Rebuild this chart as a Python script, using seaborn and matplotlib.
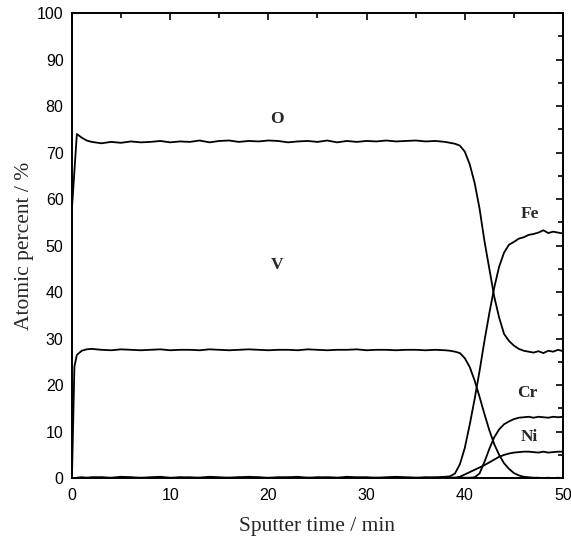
import pandas as pd
import matplotlib
matplotlib.use('Agg')
import matplotlib.pyplot as plt
from matplotlib.ticker import MultipleLocator
import seaborn as sns

# sputter depth profile data
time = [0, 0.25, 0.5, 1, 1.5, 2,
        3, 4, 5, 6, 7, 8, 9, 10, 11, 12, 13, 14,
        15, 16, 17, 18, 19, 20, 21, 22, 23, 24, 25, 26,
        27, 28, 29, 30, 31, 32, 33, 34, 35, 36, 37, 38,
        38.5, 39, 39.5, 40, 40.5, 41, 41.5, 42, 42.5, 43, 43.5, 44,
        44.5, 45, 45.5, 46, 46.5, 47, 47.5, 48, 48.5, 49, 49.5, 50]

O = [58.0, 66.0, 74.0, 73.2, 72.6, 72.3,
     72.0, 72.3, 72.1, 72.4, 72.2, 72.3, 72.5, 72.2, 72.4, 72.3, 72.6, 72.2,
     72.5, 72.6, 72.3, 72.5, 72.4, 72.6, 72.5, 72.2, 72.4, 72.5, 72.3, 72.6,
     72.2, 72.5, 72.3, 72.5, 72.4, 72.6, 72.4, 72.5, 72.6, 72.4, 72.5, 72.3,
     72.1, 71.9, 71.5, 70.2, 67.5, 63.5, 58.0, 51.0, 45.0, 39.0, 34.5, 31.0,
     29.5, 28.5, 27.8, 27.4, 27.2, 27.0, 27.3, 26.9, 27.4, 27.2, 27.6, 27.3]

V = [0.0, 24.0, 26.5, 27.4, 27.7, 27.8,
     27.6, 27.5, 27.7, 27.6, 27.5, 27.6, 27.7, 27.5, 27.6, 27.6, 27.5, 27.7,
     27.6, 27.5, 27.6, 27.7, 27.6, 27.5, 27.6, 27.6, 27.5, 27.7, 27.6, 27.5,
     27.6, 27.6, 27.7, 27.5, 27.6, 27.6, 27.5, 27.6, 27.6, 27.5, 27.6, 27.5,
     27.4, 27.2, 26.9, 25.8, 23.9, 21.0, 17.5, 13.8, 10.3, 7.3, 5.0, 3.2,
     2.0, 1.1, 0.6, 0.3, 0.2, 0.1, 0.1, 0.0, 0.1, 0.0, 0.1, 0.0]

Fe = [0.0, 0.0, 0.1, 0.2, 0.1, 0.2,
      0.2, 0.1, 0.3, 0.2, 0.1, 0.2, 0.3, 0.1, 0.2, 0.2, 0.1, 0.3,
      0.2, 0.1, 0.2, 0.3, 0.2, 0.1, 0.2, 0.2, 0.3, 0.1, 0.2, 0.2,
      0.1, 0.3, 0.2, 0.2, 0.1, 0.2, 0.3, 0.2, 0.1, 0.2, 0.2, 0.3,
      0.4, 1.0, 3.0, 6.5, 11.5, 17.0, 23.0, 29.5, 35.5, 41.0, 45.5, 48.5,
      50.2, 50.8, 51.5, 51.8, 52.3, 52.5, 52.8, 53.3, 52.7, 53.0, 52.8, 52.6]

Cr = [0.0, 0.0, 0.0, 0.1, 0.0, 0.1,
      0.1, 0.0, 0.1, 0.1, 0.0, 0.1, 0.1, 0.0, 0.1, 0.0, 0.1, 0.1,
      0.0, 0.1, 0.1, 0.0, 0.1, 0.0, 0.1, 0.1, 0.0, 0.1, 0.0, 0.1,
      0.1, 0.0, 0.1, 0.1, 0.0, 0.1, 0.0, 0.1, 0.1, 0.0, 0.1, 0.1,
      0.1, 0.1, 0.1, 0.1, 0.1, 0.2, 1.0, 3.5, 6.3, 8.8, 10.5, 11.6,
      12.2, 12.7, 13.0, 13.1, 13.2, 13.0, 13.2, 13.1, 13.0, 13.2, 13.1, 13.2]

Ni = [0.0, 0.0, 0.0, 0.0, 0.1, 0.0,
      0.1, 0.0, 0.0, 0.1, 0.0, 0.0, 0.1, 0.0, 0.1, 0.0, 0.0, 0.1,
      0.0, 0.0, 0.1, 0.0, 0.1, 0.0, 0.0, 0.1, 0.0, 0.0, 0.1, 0.0,
      0.0, 0.1, 0.0, 0.0, 0.1, 0.0, 0.1, 0.0, 0.0, 0.1, 0.0, 0.1,
      0.1, 0.1, 0.3, 0.8, 1.3, 1.8, 2.3, 2.8, 3.4, 4.0, 4.6, 5.0,
      5.3, 5.5, 5.6, 5.7, 5.7, 5.6, 5.5, 5.7, 5.5, 5.6, 5.7, 5.7]

elements = ['O', 'V', 'Fe', 'Cr', 'Ni']
label_pos = {'O': (20.9, 77.3), 'V': (20.9, 45.8), 'Fe': (46.6, 56.8),
             'Cr': (46.4, 18.3), 'Ni': (46.6, 8.8)}

series = {'O': O, 'V': V, 'Fe': Fe, 'Cr': Cr, 'Ni': Ni}
df = pd.concat([pd.DataFrame({'time': time, 'percent': series[el], 'element': el})
                for el in elements], ignore_index=True)

sns.set_style('white')
plt.rcParams['font.family'] = ['Liberation Sans', 'DejaVu Sans']

fig = plt.figure(figsize=(5.71, 5.44), dpi=100)
ax = fig.add_axes([0.126, 0.121, 0.86, 0.855])

sns.lineplot(data=df, x='time', y='percent', hue='element',
             palette={el: 'black' for el in elements}, estimator=None,
             sort=False, legend=False, linewidth=1.3, ax=ax)

for el in elements:
    x, y = label_pos[el]
    ax.text(x, y, el, ha='center', va='center', fontsize=12.5,
            fontweight='bold', family='Liberation Serif')

ax.set_xlim(0, 50)
ax.set_ylim(0, 100)
ax.xaxis.set_major_locator(MultipleLocator(10))
ax.xaxis.set_minor_locator(MultipleLocator(5))
ax.yaxis.set_major_locator(MultipleLocator(10))
ax.yaxis.set_minor_locator(MultipleLocator(5))
ax.tick_params(which='both', direction='in', top=True, right=True,
               width=1.2, colors='black', labelsize=11.5)
ax.tick_params(which='major', length=5)
ax.tick_params(which='minor', length=3.4)
ax.tick_params(axis='x', pad=7)
ax.tick_params(axis='y', pad=6)
for sp in ax.spines.values():
    sp.set_linewidth(1.4)
    sp.set_color('black')

ax.set_xlabel('Sputter time / min', family='Liberation Serif', fontsize=15.5,
              labelpad=10)
ax.set_ylabel('Atomic percent / %', family='Liberation Serif', fontsize=15.5,
              labelpad=2)

fig.savefig('out.png', dpi=100)
